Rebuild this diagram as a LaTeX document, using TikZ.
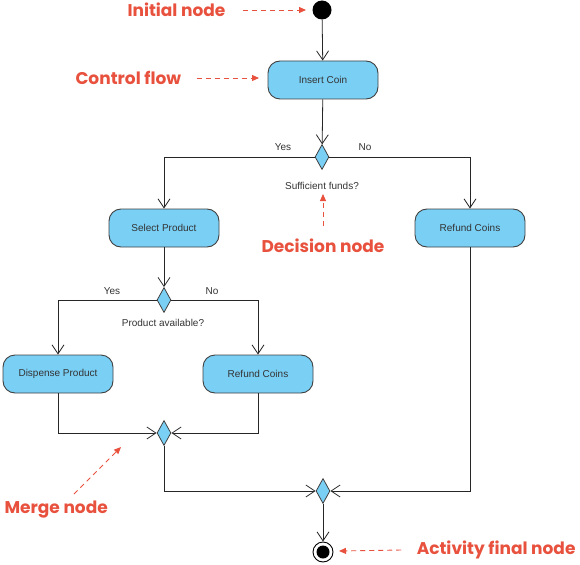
\documentclass[tikz,border=0pt]{standalone}
\usepackage{fontspec}
\setmainfont{Liberation Sans}
\newfontfamily\notefont{Poppins}
\usetikzlibrary{calc,shapes.geometric,arrows.meta}
\definecolor{actblue}{HTML}{7ACFF5}
\definecolor{actline}{HTML}{404040}
\definecolor{notered}{HTML}{E8513D}
\tikzset{x=1pt,y=-1pt}
\tikzset{
  action/.style={draw=actline, fill=actblue, line width=0.9pt, rounded corners=12pt,
    minimum width=110pt, minimum height=38pt, font=\fontsize{10}{12}\selectfont, text=black!80},
  decision/.style={diamond, draw=actline, fill=actblue, line width=0.8pt, inner sep=0pt,
    minimum width=14pt, minimum height=25pt},
  flow/.style={draw=black!85, line width=0.8pt, -{Straight Barb[length=9pt,width=12pt]}},
  guard/.style={font=\fontsize{10}{12}\selectfont, text=black!80},
  note/.style={font=\notefont\bfseries\fontsize{17}{20}\selectfont, text=notered},
  pointer/.style={draw=notered, line width=0.9pt, dash pattern=on 5pt off 4pt,
    -{Triangle[length=7pt,width=6pt]}}
}

\begin{document}
\begin{tikzpicture}
\useasboundingbox (0,0) rectangle (580,564);

%% activity nodes
\node[circle, fill=black, inner sep=0pt, minimum size=19pt] (init) at (322,10) {};
\node[action] (insert) at (323,80) {Insert Coin};
\node[decision] (funds) at (322,157) {};
\node[action] (select) at (164,228) {Select Product};
\node[action] (refundA) at (470,228) {Refund Coins};
\node[decision] (avail) at (164,300) {};
\node[action] (dispense) at (58,374) {Dispense Product};
\node[action] (refundB) at (258,374) {Refund Coins};
\node[decision] (mergeA) at (164,433) {};
\node[decision] (mergeB) at (323,491) {};
\node[circle, draw=black, line width=0.9pt, inner sep=0pt, minimum size=20pt] (final) at (323,552) {};
\fill[black] (final.center) circle (6.5pt);

%% guards
\node[guard] (yesA) at (283,147) {Yes};
\node[guard] (noA) at (365,147) {No};
\node[guard] (fundsq) at (322,186) {Sufficient funds?};
\node[guard] (yesB) at (112,291) {Yes};
\node[guard] (noB) at (212,291) {No};
\node[guard] (availq) at (163,323) {Product available?};

%% control flows
\draw[flow] (init) -- (insert);
\draw[flow] (insert) -- (funds);
\draw[flow] (funds.west) -| (select.north);
\draw[flow] (funds.east) -| (refundA.north);
\draw[flow] (select) -- (avail);
\draw[flow] (avail.west) -| (dispense.north);
\draw[flow] (avail.east) -| (refundB.north);
\draw[flow] (dispense.south) |- (mergeA.west);
\draw[flow] (refundB.south) |- (mergeA.east);
\draw[flow] (mergeA.south) |- (mergeB.west);
\draw[flow] (refundA.south) |- (mergeB.east);
\draw[flow] (mergeB) -- (final);

%% annotations
\node[note, anchor=west] (initnote) at (124,10) {Initial node};
\node[note, anchor=west] (flownote) at (72,78) {Control flow};
\node[note] (decnote) at (323,246) {Decision node};
\node[note, anchor=west] (mergenote) at (1,510) {Merge node};
\node[note, anchor=east] (finalnote) at (579,550) {Activity final node};

\coordinate (initend) at (306,10);
\coordinate (flowend) at (259,78);
\coordinate (decend) at (323,194);
\coordinate (mergestart) at (74,494);
\coordinate (mergeend) at (121,447);
\coordinate (finalend) at (339,551);

\draw[pointer] ($(initnote.east)+(14,0)$) -- (initend);
\draw[pointer] ($(flownote.east)+(12,0)$) -- (flowend);
\draw[pointer] ($(decnote.north)+(0,-10)$) -- (decend);
\draw[pointer] (mergestart) -- (mergeend);
\draw[pointer] ($(finalnote.west)+(-12,0)$) -- (finalend);

\end{tikzpicture}
\end{document}
